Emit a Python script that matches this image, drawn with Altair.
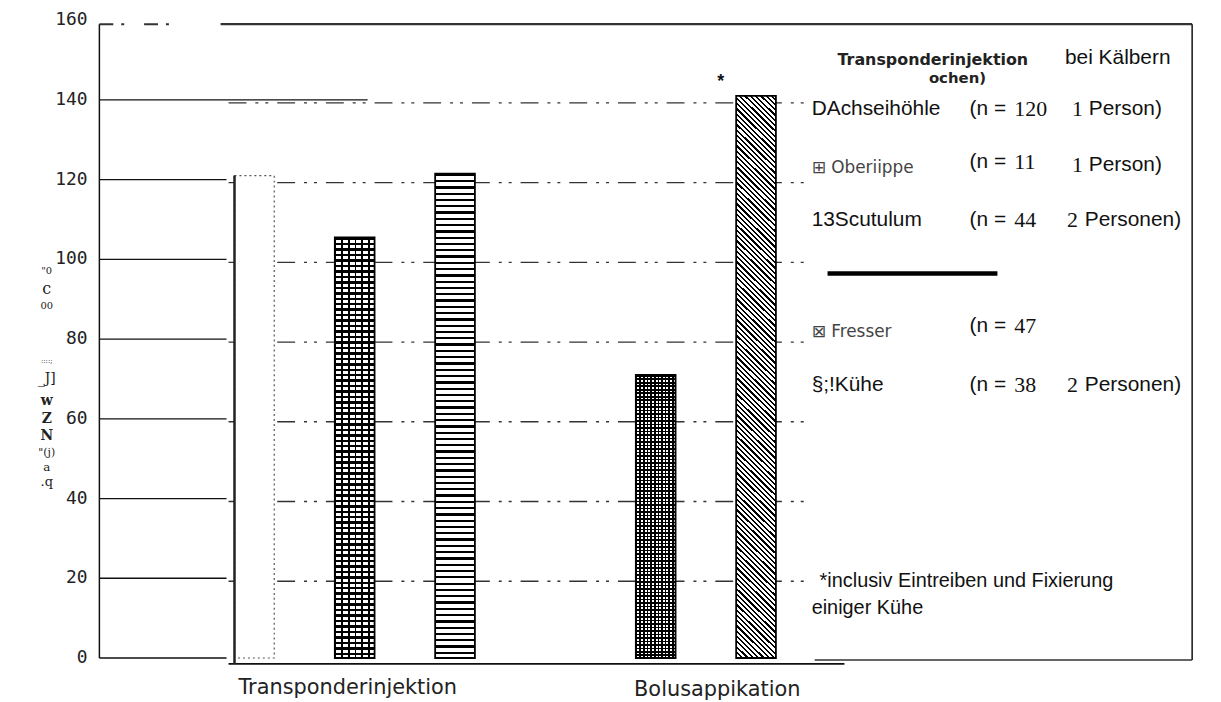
import altair as alt
import pandas as pd

# ---------------- data ----------------
sites = ["Achselhöhle", "Oberlippe", "Scutulum", "Fresser", "Kühe"]
minutes = [121.0, 105.5, 121.5, 71.0, 141.0]
groups = ["Transponderinjektion", "Bolusappikation"]
y_ticks = [0, 20, 40, 60, 80, 100, 120, 140, 160]

legend_labels = ["DAchseihöhle", "⊞ Oberiippe", "13Scutulum", "⊠ Fresser", "§;!Kühe"]
legend_n = ["120", "11", "44", "47", "38"]
legend_count = ["1", "1", "2", "", "2"]
legend_word = ["Person)", "Person)", "Personen)", "", "Personen)"]
legend_title = ["Transponderinjektion", "bei Kälbern", "ochen)"]
footnote = ["*inclusiv Eintreiben und Fixierung", "einiger Kühe"]
ytitle_tokens = ['"0', "c", "00", "::::;", "_J]", "w", "Z", "N", '"(j)', "a", ".q"]

df = pd.DataFrame({"site": sites, "value": minutes})
tick_df = pd.DataFrame({"tick": y_ticks, "label": [str(t) for t in y_ticks]})

# ---------------- layout / styles ----------------
W, H = 1100, 638
YMAX = 159.0
PXU = H / YMAX
BASE = 644  # bar baseline in plot px (slightly under the zero line, as in the scan)
SANS = "Liberation Sans"
SERIF = "Liberation Serif"

x_domain = ["Achselhöhle", "Oberlippe", "Scutulum", " ", "Fresser", "Kühe"]
xscale = alt.Scale(type="point", domain=x_domain, range=[156, 661], padding=0)
yscale = alt.Scale(domain=[0, YMAX], nice=False, zero=True)


def bar_h(v):
    return BASE - (H - v * PXU)


def stripe_grad(n, frac, dark, light, x1, y1, x2, y2):
    stops = []
    for i in range(n):
        a = round(i / n, 5)
        b = round((i + frac) / n, 5)
        c = round((i + 1) / n, 5)
        stops += [
            alt.GradientStop(color=dark, offset=a),
            alt.GradientStop(color=dark, offset=b),
            alt.GradientStop(color=light, offset=b),
            alt.GradientStop(color=light, offset=c),
        ]
    return alt.Gradient(gradient="linear", stops=stops, x1=x1, y1=y1, x2=x2, y2=y2)


def horiz(h, period, frac, dark="black", light="white"):
    return stripe_grad(max(1, round(h / period)), frac, dark, light, 0, 0, 0, 1)


def vert(w, period, frac, dark="black", light="rgba(0,0,0,0)"):
    return stripe_grad(max(1, round(w / period)), frac, dark, light, 0, 0, 1, 0)


def diag(w, h, period, frac, dark="black", light="white"):
    s = (w + h) / (w * w + h * h)
    n = max(1, round((w + h) / 1.41421 / period))
    return stripe_grad(n, frac, dark, light, 0, 1, round(w * s, 5), round(1 - h * s, 5))


BW = 40


def bar_layer(name, **mark):
    return alt.Chart(df).transform_filter(alt.datum.site == name).mark_bar(width=BW, **mark).encode(
        x=alt.X("site:N", scale=xscale, axis=None),
        y=alt.Y("value:Q", scale=yscale, axis=None),
        y2=alt.value(BASE),
    )


def txt(text, px, py, size=21, font=SANS, weight="normal", color="#111", align="left"):
    return alt.Chart(pd.DataFrame({"t": [text]})).mark_text(
        align=align, baseline="middle", font=font, fontSize=size, fontWeight=weight, color=color
    ).encode(text="t:N", x=alt.value(px - 100), y=alt.value(py - 22))


def hline(x0, x1, py, width=1.5, color="#111", dash=None):
    kw = dict(strokeWidth=width, color=color)
    if dash:
        kw["strokeDash"] = dash
    return alt.Chart(pd.DataFrame({"a": [0]})).mark_rule(**kw).encode(
        x=alt.value(x0 - 100), x2=alt.value(x1 - 100), y=alt.value(py - 22)
    )


# y tick labels drawn through the y scale
tick_labels = alt.Chart(tick_df).mark_text(
    align="right", baseline="middle", font="DejaVu Sans Mono", fontSize=18, color="#222"
).encode(y=alt.Y("tick:Q", scale=yscale, axis=None), x=alt.value(-12), text="label:N")

axis_line = alt.Chart(pd.DataFrame({"a": [0]})).mark_rule(strokeWidth=1.5, color="#111").encode(
    x=alt.value(0), y=alt.value(0), y2=alt.value(H)
)

# broken dash-dot gridlines behind the bars
dashed_grid = alt.Chart(tick_df).transform_filter(
    (alt.datum.tick > 0) & (alt.datum.tick < 160)
).mark_rule(strokeWidth=1.4, color="#333", strokeDash=[18, 9, 3, 7, 3, 9], yOffset=3).encode(
    y=alt.Y("tick:Q", scale=yscale, axis=None), x=alt.value(130), x2=alt.value(715)
)

# short solid gridlines near the axis
solid_grid = alt.Chart(tick_df).transform_filter(alt.datum.tick < 140).mark_rule(
    strokeWidth=1.3, color="#111"
).encode(y=alt.Y("tick:Q", scale=yscale, axis=None), x=alt.value(0), x2=alt.value(128))
solid_140 = alt.Chart(tick_df).transform_filter(alt.datum.tick == 140).mark_rule(
    strokeWidth=1.3, color="#111"
).encode(y=alt.Y("tick:Q", scale=yscale, axis=None), x=alt.value(0), x2=alt.value(270))

frame = [
    hline(222, 1200, 22, width=2.2, color="#333"),
    hline(100, 170, 22, width=2, color="#333", dash=[14, 8, 3, 20]),
    alt.Chart(pd.DataFrame({"a": [0]})).mark_rule(strokeWidth=1.5, color="#111").encode(
        x=alt.value(1100), y=alt.value(0), y2=alt.value(640)
    ),
    hline(820, 1200, 662, width=1.5, color="#333"),
    hline(230, 850, 666, width=1.8, color="#111"),
    hline(833, 1004, 273, width=4.5, color="#000"),
]

# bars
v = dict(zip(sites, minutes))
b1 = bar_layer("Achselhöhle", fill="white", stroke="#555", strokeWidth=1.2, strokeDash=[2, 3])
b1_edge = alt.Chart(df).transform_filter(alt.datum.site == "Achselhöhle").mark_rule(
    xOffset=-BW / 2, strokeWidth=2.5, color="#222"
).encode(x=alt.X("site:N", scale=xscale, axis=None), y=alt.Y("value:Q", scale=yscale, axis=None), y2=alt.value(BASE))

b2a = bar_layer("Oberlippe", fill=horiz(bar_h(v["Oberlippe"]), 5.6, 0.45))
b2b = bar_layer("Oberlippe", fill=vert(BW, 7, 0.25), stroke="black", strokeWidth=1.8)
b3 = bar_layer("Scutulum", fill=horiz(bar_h(v["Scutulum"]), 6.4, 0.36), stroke="black", strokeWidth=1.8)
b4a = bar_layer("Fresser", fill=horiz(bar_h(v["Fresser"]), 3.6, 0.45))
b4b = bar_layer("Fresser", fill=vert(BW, 3.6, 0.45), stroke="black", strokeWidth=1.8)
b5 = bar_layer("Kühe", fill=diag(BW, bar_h(v["Kühe"]), 3.8, 0.42), stroke="black", strokeWidth=1.8)

# texts
texts = [
    txt(groups[0], 350, 690, size=21, font="DejaVu Sans", color="#222", align="center"),
    txt(groups[1], 722, 692, size=21, font="DejaVu Sans", color="#222", align="center"),
    txt("*", 722, 80, size=18, weight="bold"),
    txt(legend_title[0], 843, 58, size=16, font="DejaVu Sans", weight="bold", color="#222"),
    txt(legend_title[1], 1072, 56, size=21),
    txt(legend_title[2], 935, 76, size=15, font="DejaVu Sans", weight="bold", color="#222"),
    txt(footnote[0], 825, 583, size=20),
    txt(footnote[1], 817, 610, size=20),
]

row_y = [107, 164, 219, 329, 385]
label_style = [
    dict(size=21),
    dict(size=17, font="DejaVu Sans", color="#444"),
    dict(size=21),
    dict(size=17, font="DejaVu Sans", color="#444"),
    dict(size=21),
]
for i in range(5):
    y = row_y[i]
    texts.append(txt(legend_labels[i], 817, y + (3 if i in (1, 3) else 0), **label_style[i]))
    texts.append(txt("(n =", 976, y - (3 if i in (1, 3) else 0), size=21))
    texts.append(txt(legend_n[i], 1021, y - (3 if i in (1, 3) else 0), size=22, font=SERIF))
    if legend_count[i]:
        texts.append(txt(legend_count[i], 1079 - (5 if legend_count[i] == "2" else 0), y, size=22, font=SERIF))
        texts.append(txt(legend_word[i], 1096 - (4 if legend_count[i] == "2" else 0), y, size=21))

ytitle_y = [270, 289, 306, 361, 379, 401, 419, 437, 454, 468, 483]
ytitle_size = [10, 16, 10, 7, 14, 14, 14, 14, 11, 12, 13]
ytitle_bold = ["normal", "normal", "normal", "normal", "normal", "bold", "bold", "bold", "normal", "normal", "normal"]
for tok, yy, sz, wt in zip(ytitle_tokens, ytitle_y, ytitle_size, ytitle_bold):
    texts.append(txt(tok, 47, yy, size=sz, font="DejaVu Serif", weight=wt, color="#222", align="center"))

chart = alt.layer(
    dashed_grid, solid_grid, solid_140, *frame, axis_line, tick_labels,
    b1, b1_edge, b2a, b2b, b3, b4a, b4b, b5, *texts
).properties(
    width=W, height=H,
    autosize=alt.AutoSizeParams(type="none"),
    padding={"left": 92, "top": 14, "right": 21, "bottom": 42},
    background="white",
).configure_view(stroke=None)

chart.save("out.html", embed_options={"renderer": "svg", "actions": False})
